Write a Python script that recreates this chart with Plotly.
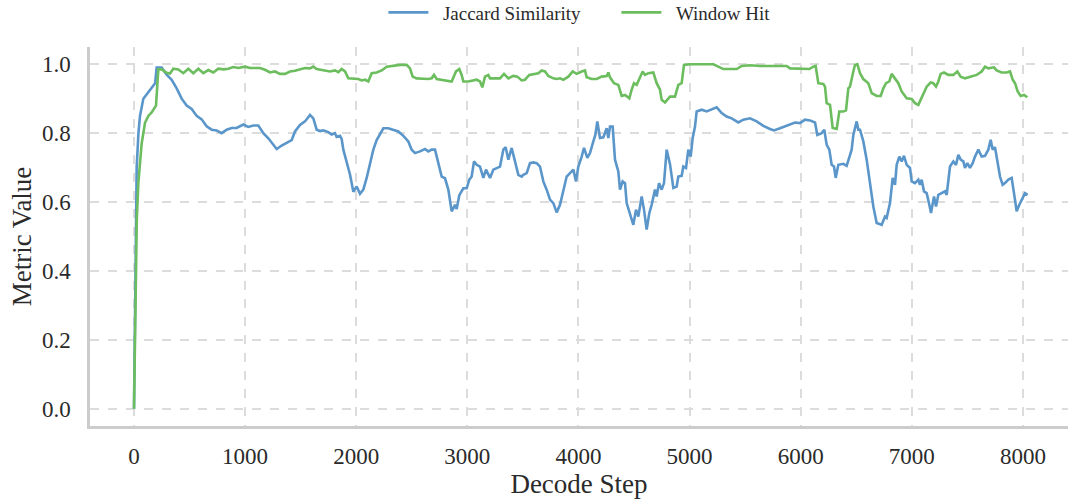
import plotly.graph_objects as go

# ---------------- data ----------------
jaccard_steps = [0, 8, 16, 24, 40, 54, 84, 129, 174, 190, 204, 249, 294, 339, 384, 429, 474, 519, 564, 609,
                 654, 699, 744, 789, 834, 879, 924, 984, 1029, 1074, 1119, 1164, 1209, 1254, 1284, 1329, 1374,
                 1419, 1449, 1494, 1539, 1584, 1614, 1644, 1674, 1704, 1749, 1779, 1809, 1824, 1854, 1869, 1884,
                 1914, 1944, 1974, 2004, 2034, 2064, 2094, 2124, 2154, 2184, 2214, 2244, 2289, 2334, 2379, 2424,
                 2469, 2499, 2529, 2574, 2619, 2649, 2679, 2709, 2739, 2769, 2799, 2829, 2859, 2889, 2904, 2928,
                 2964, 2994, 3018, 3039, 3060, 3084, 3114, 3144, 3168, 3204, 3234, 3264, 3294, 3324, 3345, 3369,
                 3399, 3429, 3459, 3489, 3504, 3534, 3564, 3594, 3624, 3654, 3684, 3714, 3744, 3774, 3804, 3834,
                 3864, 3894, 3924, 3954, 3978, 3999, 4029, 4050, 4080, 4104, 4134, 4152, 4170, 4194, 4224, 4254,
                 4269, 4284, 4308, 4329, 4359, 4374, 4398, 4419, 4434, 4464, 4494, 4518, 4539, 4569, 4590, 4614,
                 4638, 4659, 4689, 4704, 4725, 4749, 4770, 4794, 4824, 4854, 4884, 4899, 4929, 4944, 4968, 4989,
                 5010, 5028, 5049, 5064, 5109, 5154, 5199, 5244, 5289, 5334, 5379, 5439, 5484, 5544, 5604, 5664,
                 5724, 5760, 5814, 5859, 5904, 5949, 5994, 6039, 6084, 6129, 6150, 6189, 6213, 6234, 6258, 6279,
                 6300, 6315, 6339, 6384, 6414, 6444, 6459, 6474, 6504, 6519, 6534, 6564, 6594, 6624, 6654, 6684,
                 6729, 6759, 6774, 6804, 6828, 6849, 6864, 6888, 6909, 6930, 6954, 6984, 6999, 7029, 7059, 7074,
                 7089, 7110, 7134, 7158, 7173, 7200, 7218, 7239, 7269, 7299, 7314, 7329, 7344, 7374, 7398, 7419,
                 7440, 7464, 7479, 7500, 7524, 7548, 7569, 7599, 7629, 7659, 7689, 7710, 7728, 7749, 7764, 7794,
                 7818, 7839, 7869, 7899, 7920, 7944, 7968, 7989, 8019, 8043]
jaccard_values = [0.0, 0.30, 0.55, 0.70, 0.80, 0.85, 0.90, 0.92, 0.94, 0.945, 0.99, 0.99, 0.97, 0.955, 0.93,
                  0.90, 0.88, 0.87, 0.85, 0.84, 0.82, 0.81, 0.808, 0.80, 0.81, 0.815, 0.815, 0.825, 0.818, 0.822,
                  0.822, 0.80, 0.785, 0.766, 0.754, 0.764, 0.771, 0.78, 0.805, 0.824, 0.834, 0.853, 0.843, 0.81,
                  0.806, 0.808, 0.803, 0.796, 0.80, 0.789, 0.792, 0.783, 0.752, 0.713, 0.68, 0.63, 0.645, 0.624,
                  0.636, 0.67, 0.713, 0.752, 0.78, 0.795, 0.814, 0.814, 0.81, 0.805, 0.792, 0.776, 0.752, 0.742,
                  0.747, 0.754, 0.747, 0.752, 0.752, 0.713, 0.674, 0.669, 0.636, 0.573, 0.592, 0.58, 0.62, 0.64,
                  0.64, 0.665, 0.674, 0.718, 0.708, 0.703, 0.67, 0.694, 0.67, 0.694, 0.699, 0.703, 0.752, 0.759,
                  0.723, 0.757, 0.718, 0.679, 0.674, 0.679, 0.684, 0.713, 0.715, 0.713, 0.703, 0.66, 0.636, 0.607,
                  0.597, 0.57, 0.592, 0.631, 0.674, 0.684, 0.694, 0.66, 0.703, 0.732, 0.757, 0.728, 0.742, 0.776,
                  0.795, 0.834, 0.786, 0.788, 0.814, 0.786, 0.819, 0.819, 0.723, 0.689, 0.636, 0.66, 0.655, 0.597,
                  0.568, 0.534, 0.578, 0.558, 0.616, 0.578, 0.52, 0.568, 0.592, 0.636, 0.616, 0.655, 0.636, 0.655,
                  0.752, 0.71, 0.641, 0.645, 0.674, 0.676, 0.703, 0.699, 0.752, 0.732, 0.786, 0.819, 0.863, 0.868,
                  0.863, 0.868, 0.875, 0.858, 0.848, 0.843, 0.831, 0.839, 0.843, 0.834, 0.821, 0.812, 0.808, 0.814,
                  0.819, 0.824, 0.831, 0.829, 0.839, 0.837, 0.831, 0.795, 0.80, 0.81, 0.766, 0.752, 0.708, 0.703,
                  0.67, 0.708, 0.711, 0.705, 0.738, 0.752, 0.795, 0.834, 0.81, 0.81, 0.776, 0.723, 0.655, 0.587,
                  0.539, 0.534, 0.558, 0.554, 0.597, 0.67, 0.65, 0.708, 0.732, 0.718, 0.734, 0.708, 0.699, 0.66,
                  0.655, 0.665, 0.65, 0.665, 0.631, 0.626, 0.592, 0.568, 0.616, 0.587, 0.621, 0.626, 0.631, 0.621,
                  0.655, 0.703, 0.718, 0.708, 0.737, 0.723, 0.718, 0.699, 0.713, 0.699, 0.713, 0.732, 0.752, 0.732,
                  0.734, 0.752, 0.781, 0.752, 0.759, 0.732, 0.674, 0.65, 0.655, 0.665, 0.67, 0.626, 0.573, 0.592,
                  0.607, 0.626, 0.621]

window_steps = [0, 12, 25, 39, 69, 99, 129, 159, 198, 219, 249, 294, 324, 354, 399, 444, 489, 534, 579, 624,
                669, 714, 759, 804, 849, 894, 939, 999, 1044, 1089, 1134, 1179, 1224, 1269, 1314, 1359, 1404,
                1449, 1494, 1539, 1584, 1614, 1644, 1704, 1764, 1809, 1839, 1869, 1899, 1929, 1974, 2019, 2049,
                2079, 2109, 2139, 2184, 2229, 2274, 2334, 2394, 2454, 2484, 2508, 2544, 2604, 2649, 2679, 2700,
                2724, 2769, 2814, 2859, 2898, 2928, 2949, 2964, 3009, 3054, 3084, 3114, 3135, 3159, 3189, 3204,
                3249, 3294, 3330, 3369, 3414, 3450, 3489, 3519, 3558, 3594, 3639, 3669, 3699, 3729, 3774, 3804,
                3834, 3864, 3909, 3948, 3984, 4029, 4059, 4074, 4119, 4164, 4209, 4254, 4269, 4284, 4320, 4359,
                4389, 4419, 4458, 4479, 4500, 4524, 4548, 4578, 4599, 4629, 4674, 4704, 4734, 4749, 4779, 4824,
                4869, 4899, 4929, 4950, 5004, 5064, 5124, 5214, 5259, 5304, 5364, 5424, 5469, 5544, 5634, 5724,
                5814, 5874, 5904, 5964, 6024, 6078, 6114, 6135, 6159, 6204, 6219, 6234, 6264, 6288, 6324, 6348,
                6384, 6408, 6429, 6444, 6474, 6489, 6510, 6534, 6564, 6609, 6639, 6684, 6720, 6744, 6768, 6798,
                6819, 6849, 6879, 6909, 6954, 6999, 7029, 7059, 7080, 7104, 7134, 7170, 7194, 7218, 7239, 7260,
                7290, 7329, 7374, 7410, 7440, 7479, 7524, 7584, 7629, 7659, 7689, 7740, 7764, 7809, 7854, 7884,
                7908, 7929, 7953, 7980, 8010, 8040]
window_values = [0.0, 0.35, 0.55, 0.655, 0.77, 0.83, 0.85, 0.86, 0.88, 0.985, 0.985, 0.975, 0.973, 0.987,
                 0.985, 0.974, 0.987, 0.974, 0.987, 0.974, 0.983, 0.976, 0.987, 0.985, 0.987, 0.992, 0.989, 0.993,
                 0.989, 0.989, 0.989, 0.984, 0.976, 0.979, 0.972, 0.972, 0.979, 0.981, 0.986, 0.989, 0.988, 0.993,
                 0.986, 0.982, 0.979, 0.982, 0.977, 0.986, 0.979, 0.959, 0.957, 0.957, 0.953, 0.955, 0.95, 0.974,
                 0.976, 0.982, 0.993, 0.996, 0.998, 0.998, 0.988, 0.964, 0.959, 0.958, 0.957, 0.959, 0.969, 0.957,
                 0.955, 0.953, 0.95, 0.979, 0.986, 0.969, 0.95, 0.95, 0.953, 0.955, 0.95, 0.933, 0.964, 0.969,
                 0.959, 0.959, 0.959, 0.972, 0.959, 0.966, 0.964, 0.953, 0.955, 0.969, 0.972, 0.974, 0.982, 0.979,
                 0.966, 0.959, 0.957, 0.959, 0.955, 0.964, 0.979, 0.972, 0.979, 0.982, 0.962, 0.957, 0.957, 0.964,
                 0.966, 0.976, 0.962, 0.945, 0.94, 0.908, 0.911, 0.901, 0.926, 0.945, 0.94, 0.959, 0.979, 0.969,
                 0.974, 0.976, 0.945, 0.926, 0.897, 0.889, 0.906, 0.906, 0.94, 0.945, 0.998, 1.0, 1.0, 1.0, 1.0,
                 0.993, 0.986, 0.986, 0.986, 0.995, 0.997, 0.995, 0.995, 0.995, 0.995, 0.988, 0.988, 0.988, 0.986,
                 0.993, 0.995, 0.945, 0.943, 0.935, 0.887, 0.882, 0.815, 0.812, 0.863, 0.863, 0.866, 0.93, 0.935,
                 0.979, 0.998, 1.0, 0.974, 0.957, 0.945, 0.916, 0.908, 0.908, 0.93, 0.945, 0.95, 0.972, 0.957,
                 0.945, 0.921, 0.901, 0.899, 0.887, 0.882, 0.897, 0.911, 0.935, 0.947, 0.945, 0.935, 0.95, 0.972,
                 0.976, 0.969, 0.969, 0.979, 0.964, 0.959, 0.964, 0.969, 0.979, 0.993, 0.988, 0.991, 0.982, 0.976,
                 0.976, 0.979, 0.955, 0.945, 0.921, 0.908, 0.911, 0.904]

x_tick_vals = [0, 1000, 2000, 3000, 4000, 5000, 6000, 7000, 8000]
y_tick_vals = [0.0, 0.2, 0.4, 0.6, 0.8, 1.0]
series_names = ["Jaccard Similarity", "Window Hit"]

# ---------------- figure ----------------
FONT = "Liberation Serif, Times New Roman, serif"
TEXT = "#2a2a2a"
PAD = "\u00a0\u00a0"  # small gap between legend line and its label

fig = go.Figure()
fig.add_trace(go.Scatter(x=jaccard_steps, y=jaccard_values, mode="lines", name=PAD + series_names[0],
                         line=dict(color="#5A96CA", width=2.6)))
fig.add_trace(go.Scatter(x=window_steps, y=window_values, mode="lines", name=PAD + series_names[1],
                         line=dict(color="#6BBD5E", width=2.6)))

fig.update_layout(
    width=1068, height=499,
    margin=dict(l=90, r=0, t=47, b=73, autoexpand=False),
    paper_bgcolor="white", plot_bgcolor="white",
    font=dict(family=FONT, color=TEXT),
    showlegend=True,
    legend=dict(orientation="h", x=0.3, xanchor="left", yref="container", y=0.975, yanchor="middle",
                itemwidth=40, entrywidth=178,
                font=dict(size=19, family=FONT, color=TEXT), bgcolor="rgba(0,0,0,0)"),
    xaxis=dict(
        range=[-396, 8406], tickmode="array", tickvals=x_tick_vals, ticktext=[str(v) for v in x_tick_vals],
        showgrid=True, gridcolor="#dcdcdc", griddash="dash", gridwidth=1.5, zeroline=False,
        showline=True, linecolor="#cccccc", linewidth=2.5, ticks="", ticklabelstandoff=8,
        automargin=False,
        tickfont=dict(size=23, family=FONT, color=TEXT),
        title=dict(text="Decode Step", font=dict(size=27, family=FONT, color=TEXT), standoff=10),
    ),
    yaxis=dict(
        range=[-0.05, 1.05], tickmode="array", tickvals=y_tick_vals, ticktext=[f"{v:.1f}" for v in y_tick_vals],
        showgrid=True, gridcolor="#dcdcdc", griddash="dash", gridwidth=1.5, zeroline=False,
        showline=True, linecolor="#cccccc", linewidth=2.5, ticks="", ticklabelstandoff=12,
        automargin=False,
        tickfont=dict(size=23, family=FONT, color=TEXT),
        title=dict(text="Metric Value", font=dict(size=27, family=FONT, color=TEXT), standoff=3),
    ),
)

fig.write_html("out.html", config={"displayModeBar": False},
               post_script="document.body.style.margin='0';")
